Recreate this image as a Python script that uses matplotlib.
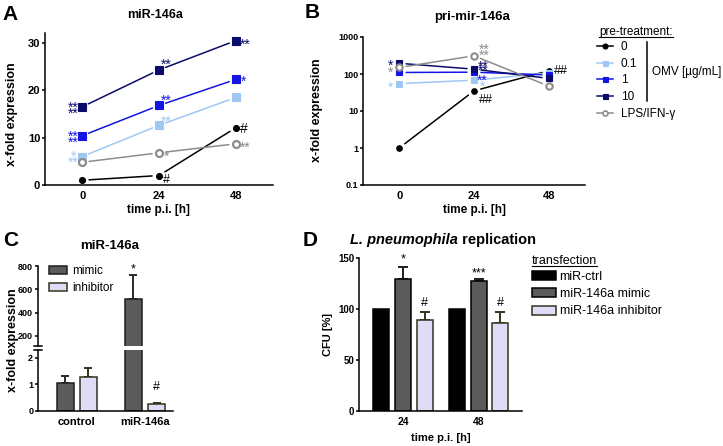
import matplotlib
matplotlib.use("Agg")
import matplotlib.pyplot as plt
from matplotlib.lines import Line2D
from matplotlib.patches import Patch
import numpy as np

plt.rcParams["font.family"] = ["Liberation Sans", "DejaVu Sans"]

W, H = 723, 446
NAVY, BLUE, LIGHT, GRAY = "#0b0b6b", "#1414e6", "#9ec8f2", "#8c8c8c"
MIMIC, INHIB, OLIVE = "#595c59", "#dedcf7", "#33331e"

# ---------------- data ----------------
TIME = [0, 24, 48]
SERIES = ["0", "0.1", "1", "10", "LPS/IFN-γ"]

# panel A: miR-146a (linear)
A_0 = [1.0, 2.0, 12.1]
A_01 = [6.0, 12.6, 18.5]
A_1 = [10.4, 16.8, 22.3]
A_10 = [16.5, 24.3, 30.5]
A_LPS = [4.8, 6.8, 8.7]

# panel B: pri-mir-146a (log)
B_0 = [1.0, 35, 123]
B_01 = [55, 68, 108]
B_1 = [110, 112, 94]
B_10 = [195, 135, 76]
B_LPS = [150, 310, 47]

# panel C: transfection check
C_GROUPS = ["control", "miR-146a"]
C_MIMIC = [1.07, 515]
C_MIMIC_ERR = [0.26, 205]
C_INHIB = [1.29, 0.28]
C_INHIB_ERR = [0.34, 0.03]

# panel D: L. pneumophila replication
D_TIMES = ["24", "48"]
D_CTRL = [100, 100]
D_MIMIC = [129, 127]
D_MIMIC_ERR = [12, 2]
D_INHIB = [89, 86]
D_INHIB_ERR = [8, 11]

fig = plt.figure(figsize=(W / 100, H / 100), dpi=100)


def rect(x0, y0, x1, y1):
    return [x0 / W, 1 - y1 / H, (x1 - x0) / W, (y1 - y0) / H]


def ftext(x, y, s, **kw):
    return fig.text(x / W, 1 - y / H, s, **kw)


def style(ax, ysize=8):
    for s in ["top", "right"]:
        ax.spines[s].set_visible(False)
    for s in ["left", "bottom"]:
        ax.spines[s].set_linewidth(1.1)
    ax.tick_params(axis="y", length=2.5, width=1.1, labelsize=ysize, pad=1)
    ax.tick_params(axis="x", length=0, labelsize=8, pad=4)
    for lab in ax.get_xticklabels() + ax.get_yticklabels():
        lab.set_fontweight("bold")


def gap_line(ax, xs, ys, color, lw=1.1, gap=5):
    for i in range(len(xs) - 1):
        ax.annotate("", xy=(xs[i + 1], ys[i + 1]), xytext=(xs[i], ys[i]),
                    arrowprops=dict(arrowstyle="-", color=color, lw=lw,
                                    shrinkA=gap, shrinkB=gap))


def mark(ax, x, y, s, dx, dy, color, ha="left", fs=10):
    # dx, dy in pixels; dy is the vertical offset of the glyph centre
    lift = 0.58 if "*" in s else 0.36
    base = dy - lift * fs * 1.389
    ax.annotate(s, xy=(x, y), xytext=(dx * 0.72, base * 0.72),
                textcoords="offset points", ha=ha, va="baseline",
                color=color, fontsize=fs, annotation_clip=False)


# ---------------- panel A ----------------
axA = fig.add_axes(rect(45, 33, 273, 185))
specA = [(A_0, "k", "o", 4.3, "k"), (A_01, LIGHT, "s", 5.2, LIGHT),
         (A_1, BLUE, "s", 5.2, BLUE), (A_10, NAVY, "s", 5.2, NAVY),
         (A_LPS, GRAY, "o", 5.0, "white")]
for ys, c, m, ms, fc in specA:
    gap_line(axA, TIME, ys, c)
    axA.plot(TIME, ys, ls="none", marker=m, ms=ms, mfc=fc, mec=c,
             mew=1.6 if fc == "white" else 0.8, clip_on=False)
axA.set_xlim(-11.6, 59.6)
axA.set_ylim(0, 32.1)
axA.set_xticks(TIME)
axA.set_yticks([0, 10, 20, 30])
style(axA)

for ys, c in ((A_10, NAVY), (A_1, BLUE)):
    mark(axA, 0, ys[0], "**", -4, 2.8, c, "right")
    mark(axA, 0, ys[0], "**", -4, -2.8, c, "right")
mark(axA, 0, A_01[0], "*", -9, 4, LIGHT, "center")
mark(axA, 0, A_01[0], "**", -4, -1.7, LIGHT, "right")
mark(axA, 24, A_10[1], "**", 2, 9, NAVY)
mark(axA, 24, A_1[1], "**", 2, 8.7, BLUE)
mark(axA, 24, A_01[1], "**", 2, 7.3, LIGHT)
mark(axA, 24, A_LPS[1], "*", 5, 0, GRAY)
mark(axA, 24, A_0[1], "#", 4, -3.3, "k", fs=9)
mark(axA, 48, A_10[2], "**", 4, 0, NAVY)
mark(axA, 48, A_1[2], "*", 5, 1.5, BLUE)
mark(axA, 48, A_0[2], "#", 4, 0, "k", fs=10)
mark(axA, 48, A_LPS[2], "**", 4, 0, GRAY)

ftext(2, 14, "A", fontsize=15, fontweight="bold", va="center")
ftext(155, 15, "miR-146a", fontsize=9, fontweight="bold", ha="center", va="center")
ftext(12, 114, "x-fold expression", fontsize=9, fontweight="bold",
      rotation=90, ha="center", va="center")
ftext(158, 210, "time p.i. [h]", fontsize=8.5, fontweight="bold", ha="center", va="center")

# ---------------- panel B ----------------
axB = fig.add_axes(rect(363, 37, 585, 185))
specB = [(B_0, "k", "o", 4.0, "k"), (B_01, LIGHT, "s", 4.8, LIGHT),
         (B_1, BLUE, "s", 4.8, BLUE), (B_10, NAVY, "s", 4.8, NAVY),
         (B_LPS, GRAY, "o", 4.6, "white")]
axB.set_yscale("log")
for ys, c, m, ms, fc in specB:
    gap_line(axB, TIME, ys, c)
    axB.plot(TIME, ys, ls="none", marker=m, ms=ms, mfc=fc, mec=c,
             mew=1.5 if fc == "white" else 0.8, clip_on=False)
axB.set_xlim(-11.6, 59.6)
axB.set_ylim(0.1, 1000)
axB.set_xticks(TIME)
axB.set_yticks([0.1, 1, 10, 100, 1000])
axB.set_yticklabels(["0.1", "1", "10", "100", "1000"])
axB.minorticks_off()
style(axB, ysize=6.5)

mark(axB, 0, B_10[0], "*", -6, 1.6, NAVY, "right")
mark(axB, 0, B_LPS[0], "*", -6, -1.5, GRAY, "right")
mark(axB, 0, B_01[0], "*", -6, 0, LIGHT, "right")
mark(axB, 24, B_LPS[1], "**", 5, 10, GRAY)
mark(axB, 24, B_LPS[1], "**", 5, 4.5, GRAY)
mark(axB, 24, B_10[1], "**", 4, 6.3, NAVY)
mark(axB, 24, B_10[1], "**", 4, 2.0, NAVY)
mark(axB, 24, B_1[1], "**", 3, -4.4, BLUE)
mark(axB, 24, B_01[1], "*", 6, -2.7, LIGHT)
mark(axB, 24, B_0[1], "##", 5, -7.7, "k", fs=9)
mark(axB, 48, B_0[2], "##", 5, 1, "k", fs=9)

ftext(305, 13, "B", fontsize=15, fontweight="bold", va="center")
ftext(472, 17, "pri-mir-146a", fontsize=9.5, fontweight="bold", ha="center", va="center")
ftext(317, 110, "x-fold expression", fontsize=9, fontweight="bold",
      rotation=90, ha="center", va="center")
ftext(474, 210, "time p.i. [h]", fontsize=8.5, fontweight="bold", ha="center", va="center")

handles = [Line2D([], [], color=c, marker=m, ms=3.6, mfc=fc, mec=c,
                  mew=1.2 if fc == "white" else 0.8, lw=1.1)
           for _, c, m, _, fc in specB]
fig.legend(handles, SERIES, loc="upper left", bbox_to_anchor=(597 / W, 1 - 41 / H),
           frameon=False, fontsize=8.5, handlelength=1.35, handletextpad=0.65,
           labelspacing=0.4, borderpad=0, borderaxespad=0)
t_pre = ftext(599, 32, "pre-treatment:", fontsize=8.5, va="center")
fig.add_artist(Line2D([647 / W, 647 / W], [1 - 42 / H, 1 - 101 / H], color="k", lw=1.1))
ftext(652, 72, "OMV [µg/mL]", fontsize=8.5, va="center")

# ---------------- panel C ----------------
axCu = fig.add_axes(rect(38, 266, 173, 346))
axCl = fig.add_axes(rect(38, 350, 173, 411))
xc = np.arange(len(C_GROUPS))
bw, off = 0.25, 0.17
for ax in (axCu, axCl):
    ax.bar(xc - off, C_MIMIC, bw, color=MIMIC, edgecolor="#1e1e1e", lw=1.1, zorder=2)
    ax.bar(xc + off, C_INHIB, bw, color=INHIB, edgecolor=OLIVE, lw=1.1, zorder=2)
    ax.errorbar(xc - off, C_MIMIC, yerr=[np.zeros(2), C_MIMIC_ERR], fmt="none",
                ecolor="#2a2a2a", elinewidth=1.4, capsize=3.2, capthick=1.4, zorder=1)
    ax.errorbar(xc + off, C_INHIB, yerr=[np.zeros(2), C_INHIB_ERR], fmt="none",
                ecolor=OLIVE, elinewidth=1.4, capsize=3.2, capthick=1.4, zorder=1)
    ax.set_xlim(-0.57, 1.41)
axCu.set_ylim(114, 800)
axCu.set_yticks([200, 400, 600, 800])
axCl.set_ylim(0, 2.3)
axCl.set_yticks([0, 1, 2])
axCl.set_xticks(xc)
axCl.set_xticklabels(C_GROUPS)
style(axCu, ysize=6.5)
style(axCl, ysize=6.5)
axCu.spines["bottom"].set_visible(False)
axCu.set_xticks([])
for ax, yy in ((axCu, 0), (axCl, 1)):
    ax.plot([-0.03, 0.03], [yy, yy], transform=ax.transAxes, color="k",
            lw=1.1, clip_on=False)
axCu.annotate("*", xy=(xc[1] - off, C_MIMIC[1] + C_MIMIC_ERR[1]), xytext=(0, 0),
              textcoords="offset points", ha="center", va="bottom", fontsize=9)
axCl.annotate("#", xy=(xc[1] + off, C_INHIB[1] + C_INHIB_ERR[1]), xytext=(0, 7),
              textcoords="offset points", ha="center", va="bottom", fontsize=9)
axCu.legend([Patch(facecolor=MIMIC, edgecolor="#1e1e1e", lw=1.1),
             Patch(facecolor=INHIB, edgecolor=OLIVE, lw=1.1)], ["mimic", "inhibitor"],
            loc="upper left", bbox_to_anchor=(49 / W, 1 - 265 / H),
            bbox_transform=fig.transFigure, frameon=False, fontsize=8.5,
            handlelength=1.5, handleheight=0.6, handletextpad=0.5,
            labelspacing=0.45, borderpad=0, borderaxespad=0)

ftext(3, 240, "C", fontsize=15, fontweight="bold", va="center")
ftext(110, 246, "miR-146a", fontsize=9.5, fontweight="bold", ha="center", va="center")
ftext(13, 340, "x-fold expression", fontsize=9, fontweight="bold",
      rotation=90, ha="center", va="center")

# ---------------- panel D ----------------
axD = fig.add_axes(rect(359, 258, 522, 411))
xd = np.arange(len(D_TIMES))
bw, off = 0.21, 0.285
axD.bar(xd - off, D_CTRL, bw, color="k", edgecolor="k", lw=1.1, zorder=2)
axD.bar(xd, D_MIMIC, bw, color=MIMIC, edgecolor="k", lw=1.1, zorder=2)
axD.bar(xd + off, D_INHIB, bw, color=INHIB, edgecolor=OLIVE, lw=1.1, zorder=2)
axD.errorbar(xd, D_MIMIC, yerr=[np.zeros(2), D_MIMIC_ERR], fmt="none",
             ecolor="#1e1e1e", elinewidth=1.4, capsize=3.5, capthick=1.4, zorder=1)
axD.errorbar(xd + off, D_INHIB, yerr=[np.zeros(2), D_INHIB_ERR], fmt="none",
             ecolor=OLIVE, elinewidth=1.4, capsize=3.5, capthick=1.4, zorder=1)
axD.set_xlim(-0.58, 1.57)
axD.set_ylim(0, 150)
axD.set_xticks(xd)
axD.set_xticklabels(D_TIMES)
axD.set_yticks([0, 50, 100, 150])
style(axD, ysize=7)
for lab in axD.get_xticklabels():
    lab.set_fontsize(7.5)
for x, y, s, dy in [(xd[0], D_MIMIC[0] + D_MIMIC_ERR[0], "*", 1),
                    (xd[1], D_MIMIC[1] + D_MIMIC_ERR[1], "***", 0),
                    (xd[0] + off, D_INHIB[0] + D_INHIB_ERR[0], "#", 2),
                    (xd[1] + off, D_INHIB[1] + D_INHIB_ERR[1], "#", 2)]:
    axD.annotate(s, xy=(x, y), xytext=(0, dy), textcoords="offset points",
                 ha="center", va="bottom", fontsize=9)

ftext(303, 240, "D", fontsize=15, fontweight="bold", va="center")
t_lp = ftext(350, 240, "L. pneumophila", fontsize=10.5, fontweight="bold",
             fontstyle="italic", va="center")
ftext(328, 334, "CFU [%]", fontsize=8, fontweight="bold", rotation=90,
      ha="center", va="center")
ftext(441, 438, "time p.i. [h]", fontsize=8, fontweight="bold", ha="center", va="center")

axD.legend([Patch(facecolor="k", edgecolor="k", lw=1.1),
            Patch(facecolor=MIMIC, edgecolor="k", lw=1.1),
            Patch(facecolor=INHIB, edgecolor=OLIVE, lw=1.1)],
           ["miR-ctrl", "miR-146a mimic", "miR-146a inhibitor"],
           loc="upper left", bbox_to_anchor=(532 / W, 1 - 271 / H),
           bbox_transform=fig.transFigure, frameon=False, fontsize=9,
           handlelength=1.9, handleheight=0.75, handletextpad=0.3,
           labelspacing=0.42, borderpad=0, borderaxespad=0)
t_tr = ftext(532, 261, "transfection", fontsize=9, va="center")

# underlines and title tail need the rendered extents
fig.canvas.draw()
r = fig.canvas.get_renderer()
for t in (t_pre, t_tr):
    bb = t.get_window_extent(r)
    yb = bb.y0 + 1
    fig.add_artist(Line2D([bb.x0 / W, bb.x1 / W], [yb / H, yb / H], color="k", lw=0.8))
bb = t_lp.get_window_extent(r)
fig.text(bb.x1 / W, 1 - 240 / H, " replication", fontsize=10.5, fontweight="bold",
         va="center")

fig.savefig("out.png", dpi=100)
